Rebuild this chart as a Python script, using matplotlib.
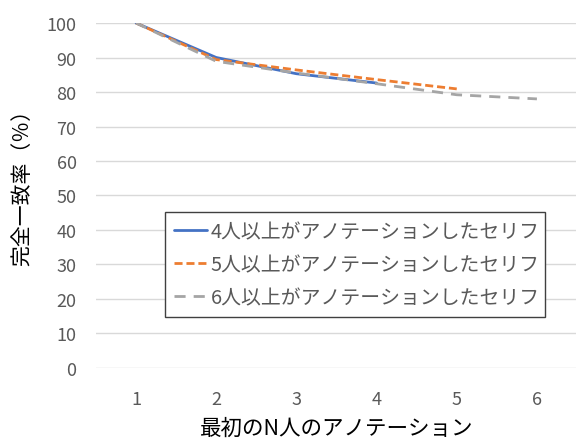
import matplotlib
matplotlib.use("Agg")
import matplotlib.pyplot as plt

plt.rcParams['font.family'] = ['Noto Sans CJK JP', 'DejaVu Sans']

# data
n_annot = [1, 2, 3, 4, 5, 6]
labels = ["4人以上がアノテーションしたセリフ",
          "5人以上がアノテーションしたセリフ",
          "6人以上がアノテーションしたセリフ"]
rate_4 = [100, 90.0, 85.3, 82.6]
rate_5 = [100, 89.4, 86.4, 83.6, 80.9]
rate_6 = [100, 88.9, 85.5, 82.4, 79.2, 78.0]
y_ticks = [0, 10, 20, 30, 40, 50, 60, 70, 80, 90, 100]

fig = plt.figure(figsize=(5.76, 4.39), dpi=100)
ax = fig.add_axes([0.1667, 0.1595, 0.835, 0.7858])

ax.plot(n_annot[:len(rate_4)], rate_4, color="#4472C4", lw=2.0, label=labels[0],
        solid_capstyle="round")
ax.plot(n_annot[:len(rate_5)], rate_5, color="#ED7D31", lw=2.0, label=labels[1],
        dashes=(2.9, 1.4))
ax.plot(n_annot[:len(rate_6)], rate_6, color="#A5A5A5", lw=2.0, label=labels[2],
        dashes=(4.0, 2.9))

ax.set_xlim(0.5, 6.5)
ax.set_ylim(0, 100)
ax.set_xticks(n_annot)
ax.set_yticks(y_ticks)
ax.grid(axis="y", color="#D9D9D9", lw=1.0)
ax.set_axisbelow(True)
for s in ax.spines.values():
    s.set_visible(False)
ax.tick_params(length=0, colors="#595959", labelsize=13)
ax.tick_params(axis="y", pad=14)
ax.tick_params(axis="x", pad=16)

ax.set_xlabel("最初のN人のアノテーション", fontsize=15.5, color="black", labelpad=6)
ax.set_ylabel("完全一致率（％）", fontsize=15, color="black",
              va="center", ha="center")
ax.yaxis.set_label_coords(-0.154, 0.542)

leg = ax.legend(loc="lower left", bbox_to_anchor=(0.143, 0.148, 0.791, 0.32),
                mode="expand", fontsize=14.3, handlelength=1.7, handletextpad=0.15,
                labelspacing=0.6, borderpad=0.45, fancybox=False, framealpha=1,
                edgecolor="#404040", borderaxespad=0)
leg.get_frame().set_linewidth(1.0)
for t in leg.get_texts():
    t.set_color("#595959")

fig.savefig("out.png", dpi=100)
